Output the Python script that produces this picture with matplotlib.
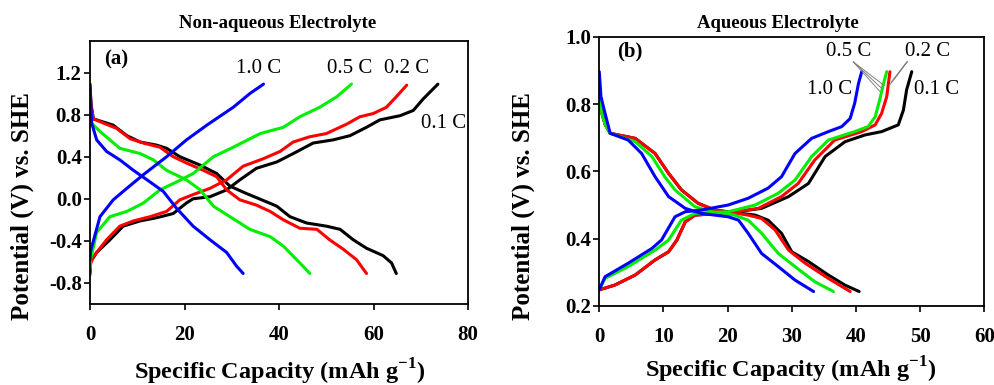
import matplotlib.pyplot as plt

plt.rcParams["font.family"] = ["Liberation Serif", "DejaVu Serif"]
plt.rcParams["mathtext.fontset"] = "custom"
plt.rcParams["mathtext.rm"] = "Liberation Serif:bold"
plt.rcParams["mathtext.bf"] = "Liberation Serif:bold"

# ---- (a) non-aqueous electrolyte: capacity (mAh/g) and potential (V vs SHE)
a_black_chg_x = [0, 0.1, 1.4, 4.2, 7.0, 10.6, 14.1, 17.6, 20.4, 21.8, 25.4, 28.9, 31.7, 35.2, 39.5,
                 43.0, 47.2, 51.4, 55.0, 58.5, 61.3, 65.6, 68.4, 70.5, 73.6]
a_black_chg_y = [-0.70, -0.60, -0.51, -0.39, -0.26, -0.21, -0.18, -0.14, -0.04, 0.0, 0.02, 0.085,
                 0.18, 0.29, 0.35, 0.43, 0.53, 0.56, 0.60, 0.68, 0.75, 0.79, 0.84, 0.95, 1.09]
a_black_dis_x = [0, 0.2, 0.7, 2.8, 4.9, 7.8, 10.6, 14.1, 16.2, 19.0, 23.3, 26.8, 29.6, 33.1, 37.4,
                 39.5, 42.3, 45.8, 50.0, 52.9, 55.7, 58.5, 62.0, 63.8, 64.8]
a_black_dis_y = [1.09, 0.90, 0.76, 0.73, 0.70, 0.60, 0.54, 0.51, 0.48, 0.40, 0.32, 0.24, 0.12, 0.05,
                 -0.03, -0.07, -0.17, -0.23, -0.26, -0.29, -0.39, -0.47, -0.54, -0.61, -0.71]

a_red_chg_x = [0, 0.1, 0.7, 3.5, 6.3, 9.2, 12.7, 16.2, 19.0, 21.8, 25.4, 28.9, 32.4, 36.6, 40.2,
               43.0, 46.5, 50.0, 54.3, 57.1, 59.9, 62.7, 64.8, 67.0]
a_red_chg_y = [-0.72, -0.62, -0.55, -0.39, -0.26, -0.21, -0.17, -0.12, -0.01, 0.04, 0.10, 0.18,
               0.31, 0.38, 0.45, 0.54, 0.59, 0.62, 0.71, 0.78, 0.81, 0.87, 0.97, 1.08]
a_red_dis_x = [0, 0.2, 0.7, 2.8, 5.6, 8.5, 11.3, 14.8, 17.6, 20.4, 24.0, 26.8, 28.9, 31.7, 35.2,
               38.1, 40.9, 44.4, 48.0, 50.7, 53.6, 56.4, 58.5]
a_red_dis_y = [1.05, 0.88, 0.76, 0.72, 0.67, 0.57, 0.53, 0.49, 0.40, 0.34, 0.27, 0.21, 0.085,
               -0.01, -0.06, -0.12, -0.20, -0.28, -0.29, -0.39, -0.48, -0.58, -0.71]

a_green_chg_x = [0, 0.1, 1.4, 4.2, 7.8, 11.3, 14.8, 18.3, 21.8, 26.1, 30.3, 36.0, 40.9, 44.4,
                 48.6, 52.2, 55.3]
a_green_chg_y = [-0.66, -0.58, -0.32, -0.17, -0.12, -0.04, 0.085, 0.16, 0.24, 0.40, 0.49, 0.62,
                 0.68, 0.78, 0.87, 0.97, 1.09]
a_green_dis_x = [0, 0.3, 2.1, 4.2, 6.3, 10.6, 13.4, 16.2, 20.4, 23.3, 26.1, 29.6, 33.8, 38.1,
                 40.9, 44.4, 46.5]
a_green_dis_y = [0.86, 0.72, 0.64, 0.56, 0.48, 0.43, 0.37, 0.27, 0.18, 0.085, -0.07, -0.17,
                 -0.29, -0.36, -0.45, -0.61, -0.71]

a_blue_chg_x = [0, 0.1, 2.1, 4.9, 7.4, 11.3, 16.2, 20.4, 24.7, 30.3, 33.8, 36.7]
a_blue_chg_y = [-0.58, -0.50, -0.17, -0.01, 0.085, 0.23, 0.40, 0.56, 0.70, 0.87, 1.00, 1.09]
a_blue_dis_x = [0, 0.35, 1.4, 3.5, 6.3, 9.2, 12.7, 15.5, 18.3, 21.8, 25.4, 28.9, 31.0, 32.4]
a_blue_dis_y = [1.06, 0.72, 0.56, 0.45, 0.37, 0.27, 0.16, 0.07, -0.09, -0.26, -0.39, -0.51,
                -0.64, -0.71]

# ---- (b) aqueous electrolyte
b_black_chg_x = [0, 2.4, 5.6, 8.7, 10.8, 12.1, 13.4, 14.9, 20.1, 25.3, 29.5, 32.6, 35.2, 38.3,
                 41.4, 44.0, 46.6, 47.4, 47.9, 48.7]
b_black_chg_y = [0.248, 0.262, 0.292, 0.337, 0.361, 0.396, 0.45, 0.47, 0.477, 0.49, 0.525,
                 0.564, 0.644, 0.688, 0.708, 0.718, 0.738, 0.782, 0.842, 0.896]
b_black_dis_x = [0, 0.3, 0.9, 1.7, 5.6, 8.7, 10.8, 12.8, 15.4, 18.0, 24.3, 26.3, 28.4, 30.0,
                 32.6, 35.7, 38.3, 40.5]
b_black_dis_y = [0.84, 0.78, 0.74, 0.713, 0.698, 0.653, 0.594, 0.545, 0.505, 0.485, 0.47,
                 0.455, 0.416, 0.361, 0.332, 0.292, 0.262, 0.243]

b_red_chg_x = [0, 2.4, 5.6, 8.7, 10.8, 12.1, 13.4, 14.9, 20.1, 24.8, 28.4, 31.0, 33.6, 36.7,
               40.9, 43.0, 44.0, 44.8, 45.3]
b_red_chg_y = [0.248, 0.262, 0.292, 0.337, 0.361, 0.396, 0.45, 0.47, 0.477, 0.49, 0.525, 0.564,
               0.634, 0.693, 0.718, 0.738, 0.772, 0.822, 0.896]
b_red_dis_x = [0, 0.3, 0.9, 1.7, 5.6, 8.7, 10.8, 12.8, 15.4, 18.0, 23.2, 25.3, 27.4, 29.5,
               32.1, 35.7, 39.1]
b_red_dis_y = [0.83, 0.78, 0.74, 0.713, 0.698, 0.653, 0.594, 0.545, 0.505, 0.485, 0.47, 0.46,
               0.426, 0.366, 0.327, 0.282, 0.243]

b_green_chg_x = [0, 0.9, 4.5, 8.7, 10.8, 12.8, 14.9, 20.1, 24.3, 27.9, 30.5, 33.1, 35.7, 39.8,
                 41.9, 43.0, 43.7, 44.3, 44.8]
b_green_chg_y = [0.25, 0.282, 0.317, 0.366, 0.396, 0.455, 0.475, 0.48, 0.50, 0.535, 0.574,
                 0.644, 0.693, 0.718, 0.733, 0.762, 0.812, 0.861, 0.896]
b_green_dis_x = [0, 0.3, 0.9, 1.7, 5.6, 8.2, 10.2, 11.8, 14.9, 17.5, 21.1, 23.2, 25.3, 27.9,
                 30.5, 33.6, 36.5]
b_green_dis_y = [0.83, 0.78, 0.74, 0.713, 0.688, 0.644, 0.584, 0.545, 0.495, 0.48, 0.47, 0.455,
                 0.416, 0.356, 0.317, 0.272, 0.243]

b_blue_chg_x = [0, 0.9, 4.5, 8.2, 9.7, 11.8, 13.4, 15.9, 20.1, 23.2, 26.3, 28.4, 30.5, 33.1,
                35.7, 37.8, 39.1, 39.8, 40.4, 40.9]
b_blue_chg_y = [0.248, 0.287, 0.327, 0.371, 0.396, 0.465, 0.48, 0.485, 0.50, 0.52, 0.55, 0.584,
                0.653, 0.698, 0.718, 0.733, 0.757, 0.802, 0.861, 0.896]
b_blue_dis_x = [0, 0.26, 0.9, 1.7, 4.5, 6.6, 8.7, 10.8, 13.4, 15.9, 20.1, 21.7, 23.2, 25.3,
                27.9, 30.5, 33.4]
b_blue_dis_y = [0.896, 0.822, 0.772, 0.713, 0.693, 0.653, 0.584, 0.525, 0.49, 0.475, 0.465,
                0.455, 0.416, 0.356, 0.317, 0.277, 0.243]

colors = {"0.1 C": "black", "0.2 C": "#ff0000", "0.5 C": "#00ee00", "1.0 C": "#0000ff"}
a_series = [
    ("0.1 C", a_black_chg_x, a_black_chg_y, a_black_dis_x, a_black_dis_y),
    ("0.2 C", a_red_chg_x, a_red_chg_y, a_red_dis_x, a_red_dis_y),
    ("0.5 C", a_green_chg_x, a_green_chg_y, a_green_dis_x, a_green_dis_y),
    ("1.0 C", a_blue_chg_x, a_blue_chg_y, a_blue_dis_x, a_blue_dis_y),
]
b_series = [
    ("0.1 C", b_black_chg_x, b_black_chg_y, b_black_dis_x, b_black_dis_y),
    ("0.2 C", b_red_chg_x, b_red_chg_y, b_red_dis_x, b_red_dis_y),
    ("0.5 C", b_green_chg_x, b_green_chg_y, b_green_dis_x, b_green_dis_y),
    ("1.0 C", b_blue_chg_x, b_blue_chg_y, b_blue_dis_x, b_blue_dis_y),
]

fig = plt.figure(figsize=(9.95, 3.85), dpi=100)
ax1 = fig.add_axes([0.0905, 0.2104, 0.380, 0.6831])
ax2 = fig.add_axes([0.6023, 0.2052, 0.3869, 0.6995])

for ax, series in ((ax1, a_series), (ax2, b_series)):
    for name, cx, cy, dx, dy in series:
        ax.plot(cx, cy, color=colors[name], lw=2.2, solid_joinstyle="round", solid_capstyle="round")
        ax.plot(dx, dy, color=colors[name], lw=2.2, solid_joinstyle="round", solid_capstyle="round")
    for side in ax.spines.values():
        side.set_linewidth(1.3)
    ax.tick_params(direction="out", length=4, width=1.2, labelsize=15)

ax1.set_xlim(0, 80)
ax1.set_ylim(-1.0, 1.5)
ax1.set_xticks([0, 20, 40, 60, 80])
ax1.set_yticks([-0.8, -0.4, 0.0, 0.4, 0.8, 1.2])
ax1.set_yticklabels(["-0.8", "-0.4", "0.0", "0.4", "0.8", "1.2"], fontweight="bold")
ax1.set_xticklabels(["0", "20", "40", "60", "80"], fontweight="bold")
ax1.tick_params(axis="x", pad=11)
ax1.tick_params(axis="y", pad=2)

ax2.set_xlim(0, 60)
ax2.set_ylim(0.2, 1.0)
ax2.set_xticks([0, 10, 20, 30, 40, 50, 60])
ax2.set_yticks([0.2, 0.4, 0.6, 0.8, 1.0])
ax2.set_xticklabels(["0", "10", "20", "30", "40", "50", "60"], fontweight="bold")
ax2.set_yticklabels(["0.2", "0.4", "0.6", "0.8", "1.0"], fontweight="bold")
ax2.tick_params(axis="x", pad=11)
ax2.tick_params(axis="y", pad=2)

xlab = r"Specific Capacity (mAh g$^{\mathbf{-1}}$)"
fig.text(0.281, 0.035, xlab, fontsize=17.5, fontweight="bold", ha="center", va="center")
fig.text(0.795, 0.040, xlab, fontsize=17.5, fontweight="bold", ha="center", va="center")
fig.text(0.022, 0.465, "Potential (V) vs. SHE", fontsize=18, fontweight="bold",
         rotation=90, ha="center", va="center")
fig.text(0.526, 0.465, "Potential (V) vs. SHE", fontsize=18, fontweight="bold",
         rotation=90, ha="center", va="center")

fig.text(0.279, 0.94, "Non-aqueous Electrolyte", fontsize=13.5, fontweight="bold", ha="center", va="center")
fig.text(0.782, 0.94, "Aqueous Electrolyte", fontsize=13.5, fontweight="bold", ha="center", va="center")

ax1.text(5.5, 1.32, "(a)", fontsize=15, fontweight="bold", ha="center", va="center")
ax2.text(4.8, 0.955, "(b)", fontsize=15, fontweight="bold", ha="center", va="center")

# rate labels, panel a
ax1.text(35.6, 1.24, "1.0 C", fontsize=15, ha="center", va="center")
ax1.text(55.0, 1.24, "0.5 C", fontsize=15, ha="center", va="center")
ax1.text(66.9, 1.24, "0.2 C", fontsize=15, ha="center", va="center")
ax1.text(74.7, 0.72, "0.1 C", fontsize=15, ha="center", va="center")

# rate labels, panel b
ax2.text(38.8, 0.955, "0.5 C", fontsize=15, ha="center", va="center")
ax2.text(51.1, 0.955, "0.2 C", fontsize=15, ha="center", va="center")
ax2.text(35.9, 0.842, "1.0 C", fontsize=15, ha="center", va="center")
ax2.text(52.6, 0.842, "0.1 C", fontsize=15, ha="center", va="center")
for ex, ey in ((43.7, 0.838), (44.1, 0.845), (44.4, 0.855)):
    ax2.plot([39.6, ex], [0.925, ey], color="gray", lw=0.7)
for ex, ey in ((45.2, 0.855), (45.5, 0.865), (45.9, 0.872)):
    ax2.plot([48.0, ex], [0.926, ey], color="gray", lw=0.7)

fig.savefig("out.png", dpi=100)
